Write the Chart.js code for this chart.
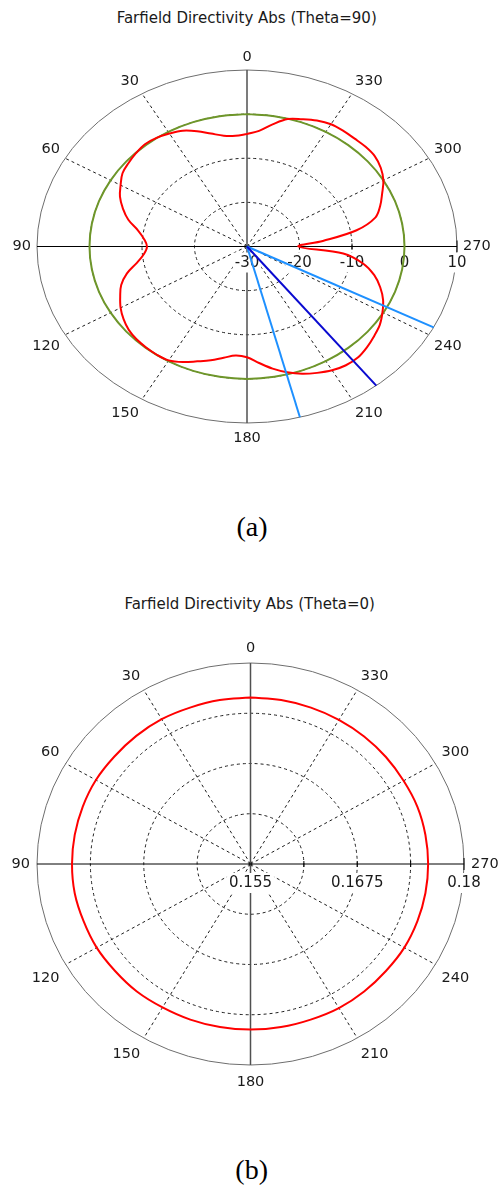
<!DOCTYPE html>
<html>
<head>
<meta charset="utf-8">
<script src="https://cdn.jsdelivr.net/npm/chart.js@4/dist/chart.umd.min.js"></script>
<style>
  body { margin: 0; background: #fff; width: 499px; height: 1187px; position: relative; overflow: hidden; }
  .title { position: absolute; transform: translateX(-50%); white-space: nowrap; font: 15px/18px "DejaVu Sans"; color: #1a1a1a; }
  .caption { position: absolute; transform: translateX(-50%); white-space: nowrap; font: 28px/32px "Liberation Serif"; color: #000; }
  canvas { position: absolute; left: 0; }
</style>
</head>
<body>
<div class="title" style="left:246.7px; top:8.8px">Farfield Directivity Abs (Theta=90)</div>
<canvas id="theta-90" width="499" height="500" style="top:0"></canvas>
<div class="caption" style="left:252px; top:510.7px">(a)</div>
<div class="title" style="left:249.7px; top:594.6px">Farfield Directivity Abs (Theta=0)</div>
<canvas id="theta-0" width="499" height="540" style="top:560px"></canvas>
<div class="caption" style="left:251.7px; top:1154px">(b)</div>
<script>
"use strict";

/* --- DATA --- */

// (a) phi cut at theta = 90, dB
const angles_a = [0, 5, 10, 15, 20, 25, 30, 35, 40, 45, 50, 55, 60, 65, 70, 75, 80, 85,
  90, 95, 100, 105, 110, 115, 120, 125, 130, 135, 140, 145, 150, 155, 160, 165, 170, 175,
  180, 185, 190, 195, 200, 205, 210, 215, 220, 225, 230, 235, 240, 245, 250, 255, 260, 265,
  270, 275, 280, 285, 290, 295, 300, 305, 310, 315, 320, 325, 330, 335, 340, 345, 350, 355, 360];
const directivity_a = [-4.5, -4.8, -4.5, -3.5, -2.2, -1.05, -0.45, 0.05, 0.25, -0.1, -0.55, -1.05, -2.2, -3.3, -4.85, -6.6, -8.9, -10.3,
  -10.95, -10.3, -8.7, -6.3, -4.5, -3.35, -2.2, -1.3, -0.6, -0.25, -0.12, -0.05, -0.2, -1.1, -2.3, -3.3, -4.4, -5.2,
  -4.9, -3.5, -1.9, -0.5, 0.7, 1.6, 2.4, 2.85, 2.85, 2.3, 1.6, 0.9, -0.2, -1.4, -3.0, -4.9, -7.5, -11.6,
  -20.2, -15.5, -8.8, -4.7, -3.0, -1.6, 0.0, 1.1, 1.8, 1.95, 1.9, 2.0, 2.0, 1.5, 0.7, -0.1, -1.9, -3.7, -4.5];

const angles_ref = [0, 10, 20, 30, 40, 50, 60, 70, 80, 90, 100, 110, 120, 130, 140, 150, 160, 170,
  180, 190, 200, 210, 220, 230, 240, 250, 260, 270, 280, 290, 300, 310, 320, 330, 340, 350, 360];
const isotropic_a = [0, 0, 0, 0, 0, 0, 0, 0, 0, 0, 0, 0, 0, 0, 0, 0, 0, 0,
  0, 0, 0, 0, 0, 0, 0, 0, 0, 0, 0, 0, 0, 0, 0, 0, 0, 0, 0];

const main_lobe_a = 218;
const beam_edges_a = [194.6, 242.7];
const radial_ticks_a = [-30, -20, -10, 0, 10];

// (b) cut at theta = 0, linear
const directivity_b = [0.1757, 0.1757, 0.1757, 0.1758, 0.1758, 0.1758, 0.1759, 0.1759, 0.1759, 0.1759,
  0.1759, 0.1758, 0.1758, 0.1757, 0.1757, 0.1756, 0.1756, 0.1756, 0.1756, 0.1756, 0.1756, 0.1757,
  0.1757, 0.1757, 0.1758, 0.1758, 0.1758, 0.1758, 0.1758, 0.1758, 0.1757, 0.1757, 0.1757, 0.1757,
  0.1757, 0.1757, 0.1757];
const radial_ticks_b = [0.155, 0.1675, 0.18];

const angle_labels = [0, 30, 60, 90, 120, 150, 180, 210, 240, 270, 300, 330];

/* --- HELPERS --- */

// 0 deg on top, angles run counter clockwise (90 left, 270 right)
function to_xy(deg, val, r_min, r_max) {
  const rn = Math.max(0, (val - r_min) / (r_max - r_min));
  const t = deg * Math.PI / 180;
  return { x: -rn * Math.sin(t), y: rn * Math.cos(t) };
}

function curve(angles, values, r_min, r_max) {
  return angles.map((a, i) => to_xy(a, values[i], r_min, r_max));
}

function spoke(angle, r_min, r_max) {
  return [to_xy(angle, r_min, r_min, r_max), to_xy(angle, r_max, r_min, r_max)];
}

/* --- POLAR GRID PLUGIN --- */

const polar_grid = {
  id: 'polarGrid',
  beforeDatasetsDraw(chart, args, opts) {
    const ctx = chart.ctx;
    const xs = chart.scales.x;
    const ys = chart.scales.y;
    const cx = xs.getPixelForValue(0);
    const cy = ys.getPixelForValue(0);
    const rx = xs.getPixelForValue(1) - cx;
    const ry = cy - ys.getPixelForValue(1);

    ctx.save();
    ctx.lineWidth = 1;

    // dashed rings + spokes
    ctx.strokeStyle = '#1e1e1e';
    ctx.setLineDash([3, 3]);
    for (let k = 1; k < opts.rings; k++) {
      ctx.beginPath();
      ctx.ellipse(cx, cy, rx * k / opts.rings, ry * k / opts.rings, 0, 0, 2 * Math.PI);
      ctx.stroke();
    }
    angle_labels.forEach(a => {
      if (a % 90 === 0) return;
      const t = a * Math.PI / 180;
      ctx.beginPath();
      ctx.moveTo(cx, cy);
      ctx.lineTo(xs.getPixelForValue(-Math.sin(t)), ys.getPixelForValue(Math.cos(t)));
      ctx.stroke();
    });
    ctx.setLineDash([]);

    // outer ring
    ctx.strokeStyle = '#6e6e6e';
    ctx.beginPath();
    ctx.ellipse(cx, cy, rx, ry, 0, 0, 2 * Math.PI);
    ctx.stroke();

    // vertical axis
    ctx.strokeStyle = '#505050';
    ctx.lineWidth = 1.5;
    ctx.beginPath();
    ctx.moveTo(cx, cy - ry);
    ctx.lineTo(cx, cy + ry);
    ctx.stroke();

    // horizontal axis with ticks
    ctx.strokeStyle = '#000';
    ctx.lineWidth = 1;
    ctx.beginPath();
    ctx.moveTo(cx - rx, cy);
    ctx.lineTo(cx + rx, cy);
    for (let k = 1; k <= opts.rings; k++) {
      const px = xs.getPixelForValue(k / opts.rings);
      const h = k === opts.rings ? 6 : 3;
      ctx.moveTo(px, cy - h);
      ctx.lineTo(px, cy + h);
    }
    ctx.stroke();

    // angle labels
    ctx.fillStyle = '#1a1a1a';
    ctx.font = '14.5px "DejaVu Sans"';
    ctx.textBaseline = 'middle';
    angle_labels.forEach(a => {
      const t = a * Math.PI / 180;
      const s = Math.sin(t), c = Math.cos(t);
      const px = xs.getPixelForValue(-s);
      const py = ys.getPixelForValue(c);
      let x = px, y = py;
      if (Math.abs(s) < 1e-6) ctx.textAlign = 'center';
      else if (s > 0) { ctx.textAlign = 'right'; x = px - opts.gap_x * s; }
      else { ctx.textAlign = 'left'; x = px - opts.gap_x * s; }
      if (Math.abs(c) > 1e-6) {
        y = c > 0 ? py - (7 * c + opts.gap_y) : py + (7 * -c + opts.gap_y + 2);
      }
      ctx.fillText(String(a), x, y);
    });

    // radial tick labels on white boxes
    ctx.font = '15px "DejaVu Sans"';
    ctx.textAlign = 'center';
    opts.ticks.forEach(v => {
      const px = xs.getPixelForValue((v - opts.r_min) / (opts.r_max - opts.r_min));
      const py = cy + opts.tick_offset;
      const label = String(v);
      const w = ctx.measureText(label).width;
      ctx.fillStyle = '#fff';
      ctx.fillRect(px - w / 2 - 2, py - 10, w + 4, 20);
      ctx.fillStyle = '#1a1a1a';
      ctx.fillText(label, px, py + 0.5);
    });

    ctx.restore();
  }
};

function polar_options(padding, grid) {
  return {
    responsive: false,
    animation: false,
    events: [],
    layout: { padding: padding },
    scales: {
      x: { type: 'linear', min: -1, max: 1, display: false },
      y: { type: 'linear', min: -1, max: 1, display: false }
    },
    plugins: {
      legend: { display: false },
      tooltip: { enabled: false },
      polarGrid: grid
    }
  };
}

const line_style = { showLine: true, pointRadius: 0, borderWidth: 2, clip: false, fill: false };

/* --- CHART (a) THETA = 90 --- */

const r_min_a = radial_ticks_a[0];
const r_max_a = radial_ticks_a[radial_ticks_a.length - 1];

new Chart(document.getElementById('theta-90'), {
  type: 'scatter',
  data: {
    datasets: [
      Object.assign({ label: 'Main lobe', data: spoke(main_lobe_a, r_min_a, r_max_a), borderColor: '#0a0ad0' }, line_style),
      Object.assign({ label: '3 dB edge 1', data: spoke(beam_edges_a[0], r_min_a, r_max_a), borderColor: '#1e90ff' }, line_style),
      Object.assign({ label: '3 dB edge 2', data: spoke(beam_edges_a[1], r_min_a, r_max_a), borderColor: '#1e90ff' }, line_style),
      Object.assign({ label: 'Directivity', data: curve(angles_a, directivity_a, r_min_a, r_max_a), borderColor: '#ff0000', tension: 0.35 }, line_style),
      Object.assign({ label: 'Isotropic', data: curve(angles_ref, isotropic_a, r_min_a, r_max_a), borderColor: '#6e962a', tension: 0.4 }, line_style)
    ]
  },
  options: polar_options({ left: 37, right: 42, top: 70, bottom: 77 },
    { rings: 4, ticks: radial_ticks_a, r_min: r_min_a, r_max: r_max_a, tick_offset: 16, gap_x: 6, gap_y: 6 }),
  plugins: [polar_grid]
});

/* --- CHART (b) THETA = 0 --- */

const r_min_b = radial_ticks_b[0];
const r_max_b = radial_ticks_b[radial_ticks_b.length - 1];

new Chart(document.getElementById('theta-0'), {
  type: 'scatter',
  data: {
    datasets: [
      Object.assign({ label: 'Directivity', data: curve(angles_ref, directivity_b, r_min_b, r_max_b), borderColor: '#ff0000', tension: 0.4 }, line_style)
    ]
  },
  options: polar_options({ left: 37, right: 35, top: 103, bottom: 35 },
    { rings: 4, ticks: radial_ticks_b, r_min: r_min_b, r_max: r_max_b, tick_offset: 19, gap_x: 7, gap_y: 8 }),
  plugins: [polar_grid]
});
</script>
</body>
</html>
